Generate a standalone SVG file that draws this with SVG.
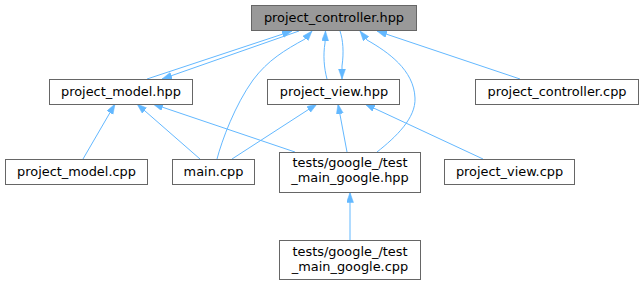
<svg xmlns="http://www.w3.org/2000/svg" width="643" height="285" viewBox="0 0 643 285">
  <style>
    .node rect { fill: #ffffff; stroke: #666666; stroke-width: 1; }
    .node.root rect { fill: #999999; }
    .node text { font-family: "DejaVu Sans", "Liberation Sans", sans-serif; font-size: 12.9px; fill: #000000; text-anchor: middle; }
    .edges path { fill: none; stroke: #63b8ff; stroke-width: 1; marker-end: url(#arrow); }
  </style>
  <defs>
    <marker id="arrow" markerUnits="userSpaceOnUse" markerWidth="11" markerHeight="8" refX="10" refY="3.5" orient="auto">
      <path d="M0,0 L10,3.5 L0,7 z" fill="#63b8ff" stroke="#63b8ff" stroke-width="0.5"/>
    </marker>
  </defs>

  <rect width="643" height="285" fill="#ffffff"/>

  <!-- include edges: each path runs from the including file to the included file -->
  <g id="edges" class="edges">
    <path id="e-model-controller" d="M147,79 L292,31"/>
    <path id="e-controller-model" d="M299,31 L162,79"/>
    <path id="e-main-controller" d="M217,159 C222,140 235,105 253,80 C268,60 285,50 305,39 L312,31"/>
    <path id="e-view-controller" d="M327,79 C324,68 323,55 325,43 L325.5,31"/>
    <path id="e-controller-view" d="M340,31 C343,40 344,52 342,66 L342,79"/>
    <path id="e-testhpp-controller" d="M377,152 C396,137 416,118 415,98 C414,70 388,52 367,40 L360,31"/>
    <path id="e-ctrlcpp-controller" d="M520,79 L377,31"/>
    <path id="e-modelcpp-model" d="M83,159 L115,104"/>
    <path id="e-main-model" d="M200,159 L137,104"/>
    <path id="e-testhpp-model" d="M295,152 L153,104"/>
    <path id="e-main-view" d="M232,159 L317,104"/>
    <path id="e-testhpp-view" d="M347,152 L338,104"/>
    <path id="e-viewcpp-view" d="M483,159 L365,104"/>
    <path id="e-testcpp-testhpp" d="M350,240 L350,192.5"/>
  </g>

  <g id="project_controller_hpp" class="node root">
    <rect x="251.5" y="5.5" width="165" height="25"/>
    <text x="334" y="22">project_controller.hpp</text>
  </g>

  <g id="project_model_hpp" class="node">
    <rect x="49.5" y="79.5" width="143" height="25"/>
    <text x="121" y="96">project_model.hpp</text>
  </g>

  <g id="project_view_hpp" class="node">
    <rect x="267.5" y="79.5" width="132" height="25"/>
    <text x="334" y="96">project_view.hpp</text>
  </g>

  <g id="project_controller_cpp" class="node">
    <rect x="475.5" y="79.5" width="163" height="25"/>
    <text x="557" y="96">project_controller.cpp</text>
  </g>

  <g id="project_model_cpp" class="node">
    <rect x="5.5" y="159.5" width="142" height="25"/>
    <text x="76.5" y="176">project_model.cpp</text>
  </g>

  <g id="main_cpp" class="node">
    <rect x="172.5" y="159.5" width="82" height="25"/>
    <text x="213.5" y="176">main.cpp</text>
  </g>

  <g id="test_main_google_hpp" class="node">
    <rect x="279.5" y="152.5" width="141" height="40"/>
    <text x="350" y="167">tests/google_/test</text>
    <text x="350" y="182">_main_google.hpp</text>
  </g>

  <g id="project_view_cpp" class="node">
    <rect x="444.5" y="159.5" width="130" height="25"/>
    <text x="509.5" y="176">project_view.cpp</text>
  </g>

  <g id="test_main_google_cpp" class="node">
    <rect x="279.5" y="240.5" width="141" height="39"/>
    <text x="350" y="255.5">tests/google_/test</text>
    <text x="350" y="270.5">_main_google.cpp</text>
  </g>
</svg>
